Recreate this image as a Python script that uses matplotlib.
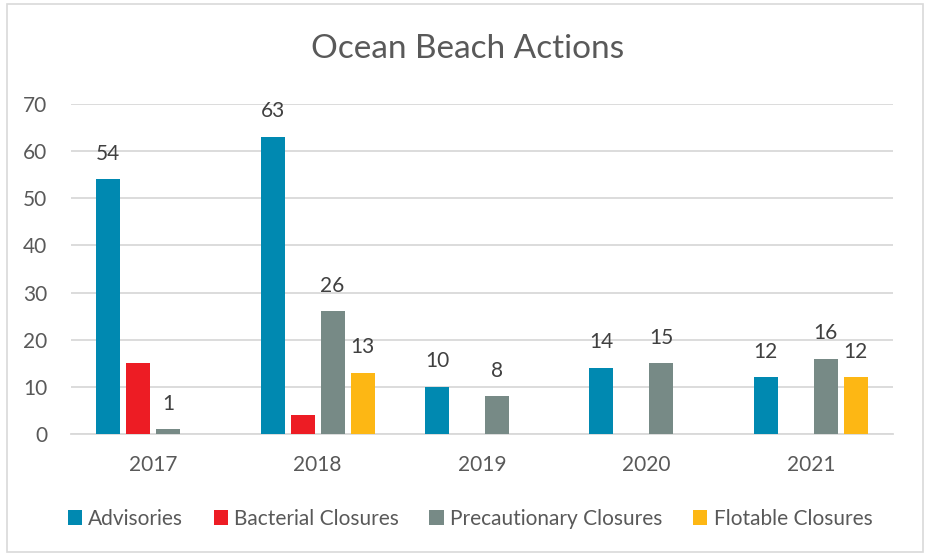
import matplotlib
matplotlib.use("Agg")
import matplotlib.pyplot as plt
import numpy as np
from matplotlib.patches import Rectangle

years = ["2017", "2018", "2019", "2020", "2021"]
advisories = [54, 63, 10, 14, 12]
bacterial = [15, 4, 0, 0, 0]
precautionary = [1, 26, 8, 15, 16]
flotable = [0, 13, 0, 0, 12]
series_names = ["Advisories", "Bacterial Closures", "Precautionary Closures", "Flotable Closures"]
colors = ["#0089B1", "#ED1C24", "#778A86", "#FDB714"]
show_labels = [True, False, True, True]

plt.rcParams['font.family'] = ['Lato', 'DejaVu Sans']
txt = "#595959"

fig = plt.figure(figsize=(9.31, 5.56), dpi=100)
ax = fig.add_axes([71/931, 1-434/556, (893-71)/931, (434-104)/556])

data = [advisories, bacterial, precautionary, flotable]
x = np.arange(len(years))
step = 30/164.4
width = 24/164.4
for i, (vals, c) in enumerate(zip(data, colors)):
    pos = x + (i - 1.5) * step
    v = np.array(vals, dtype=float)
    mask = v > 0
    ax.bar(pos[mask], v[mask], width=width, color=c, label=series_names[i], zorder=3)
    if show_labels[i]:
        for p, val in zip(pos[mask], v[mask]):
            ax.text(p, val + 3.3, f"{int(val)}", ha="center", va="bottom",
                    fontsize=15, color="#404040", zorder=4)

ax.set_xlim(-0.5, len(years) - 0.5)
ax.set_ylim(0, 70)
ax.set_yticks(range(0, 71, 10))
ax.set_xticks(x)
ax.set_xticklabels(years)
ax.grid(axis="y", color="#D9D9D9", linewidth=1.3, zorder=0)
ax.set_axisbelow(True)
for s in ["top", "right", "left"]:
    ax.spines[s].set_visible(False)
ax.spines["bottom"].set_color("#D9D9D9")
ax.spines["bottom"].set_linewidth(1.3)
ax.tick_params(axis="both", length=0, labelsize=15, colors=txt)
ax.tick_params(axis="y", pad=17)
ax.tick_params(axis="x", pad=15)

fig.text(468/931, 1-49/556, "Ocean Beach Actions", ha="center", va="center",
         fontsize=24, color=txt)

handles, labels = ax.get_legend_handles_labels()
fig.legend(handles, labels, loc="center", bbox_to_anchor=(470/931, 1-519/556),
           ncol=4, frameon=False, fontsize=15, labelcolor=txt,
           handlelength=0.7, handleheight=0.7, handletextpad=0.3, columnspacing=1.45)

fig.patches.append(Rectangle((7/931, 4/556), 916/931, 548/556, transform=fig.transFigure,
                             fill=False, edgecolor="#D9D9D9", linewidth=1.2))

fig.savefig("out.png", dpi=100, facecolor="white")
